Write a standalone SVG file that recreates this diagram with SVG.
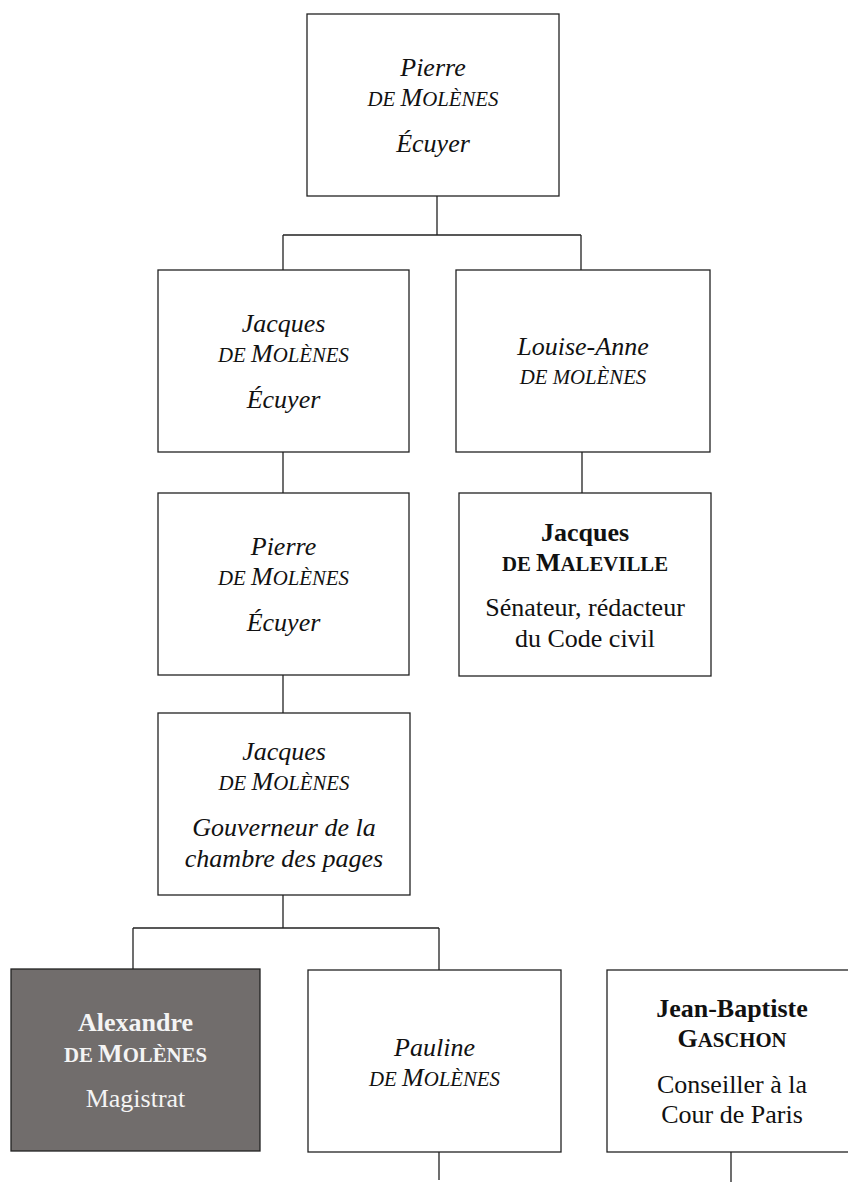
<svg xmlns="http://www.w3.org/2000/svg" width="848" height="1182" viewBox="0 0 848 1182">
<style>
.box{fill:#ffffff;stroke:#222222;stroke-width:1.3}
.dark{fill:#716d6c;stroke:#222222;stroke-width:1.3}
.c{stroke:#222222;stroke-width:1.3;fill:none}
text{font-family:"Liberation Serif","Times New Roman",serif;font-size:26px;text-anchor:middle;fill:#111111}
.i{font-style:italic}
.b{font-weight:bold}
.w{fill:#f4f4f4}
.sc{font-size:20.8px}
</style>
<rect width="848" height="1182" fill="#ffffff"/>
<g id="connectors">
<path class="c" d="M437 196V235M283 235H581M283 235V270M581 235V270"/>
<path class="c" d="M283 452V493M582 452V493"/>
<path class="c" d="M283 675V713"/>
<path class="c" d="M283 895V928M133 928H439M133 928V969M439 928V970"/>
<path class="c" d="M439 1152V1180M731 1152V1182"/>
</g>
<g id="pierre1">
<rect class="box" x="307" y="14" width="252" height="182"/>
<text class="i" x="433" y="76">Pierre</text>
<text class="i" x="433" y="106"><tspan class="sc">DE </tspan>M<tspan class="sc">OLÈNES</tspan></text>
<text class="i" x="433" y="152">Écuyer</text>
</g>
<g id="jacques1">
<rect class="box" x="158" y="270" width="251" height="182"/>
<text class="i" x="283.5" y="332">Jacques</text>
<text class="i" x="283.5" y="362"><tspan class="sc">DE </tspan>M<tspan class="sc">OLÈNES</tspan></text>
<text class="i" x="283.5" y="408">Écuyer</text>
</g>
<g id="louise">
<rect class="box" x="456" y="270" width="254" height="182"/>
<text class="i" x="583" y="355">Louise-Anne</text>
<text class="i sc" x="583" y="384">DE MOLÈNES</text>
</g>
<g id="pierre2">
<rect class="box" x="158" y="493" width="251" height="182"/>
<text class="i" x="283.5" y="555">Pierre</text>
<text class="i" x="283.5" y="585"><tspan class="sc">DE </tspan>M<tspan class="sc">OLÈNES</tspan></text>
<text class="i" x="283.5" y="631">Écuyer</text>
</g>
<g id="maleville">
<rect class="box" x="459" y="493" width="252" height="183"/>
<text class="b" x="585" y="540.5">Jacques</text>
<text class="b" x="585" y="570.5"><tspan class="sc">DE </tspan>M<tspan class="sc">ALEVILLE</tspan></text>
<text x="585" y="616">Sénateur, rédacteur</text>
<text x="585" y="646.5">du Code civil</text>
</g>
<g id="jacques2">
<rect class="box" x="158" y="713" width="252" height="182"/>
<text class="i" x="284" y="760">Jacques</text>
<text class="i" x="284" y="790"><tspan class="sc">DE </tspan>M<tspan class="sc">OLÈNES</tspan></text>
<text class="i" x="284" y="836">Gouverneur de la</text>
<text class="i" x="284" y="867">chambre des pages</text>
</g>
<g id="alexandre">
<rect class="dark" x="11" y="969" width="249" height="182"/>
<text class="b w" x="135.5" y="1031">Alexandre</text>
<text class="b w" x="135.5" y="1061.5"><tspan class="sc">DE </tspan>M<tspan class="sc">OLÈNES</tspan></text>
<text class="w" x="135.5" y="1107">Magistrat</text>
</g>
<g id="pauline">
<rect class="box" x="308" y="970" width="253" height="182"/>
<text class="i" x="434.5" y="1056">Pauline</text>
<text class="i" x="434.5" y="1086"><tspan class="sc">DE </tspan>M<tspan class="sc">OLÈNES</tspan></text>
</g>
<g id="gaschon">
<rect class="box" x="607" y="970" width="250" height="182"/>
<text class="b" x="732" y="1017">Jean-Baptiste</text>
<text class="b" x="732" y="1047">G<tspan class="sc">ASCHON</tspan></text>
<text x="732" y="1093">Conseiller à la</text>
<text x="732" y="1123">Cour de Paris</text>
</g>
</svg>
